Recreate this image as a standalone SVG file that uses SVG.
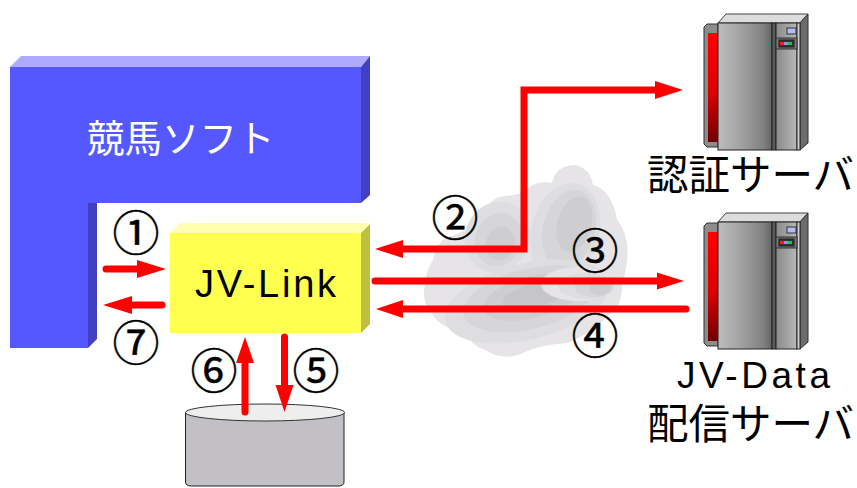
<svg xmlns="http://www.w3.org/2000/svg" width="857" height="488" viewBox="0 0 857 488">
<style>
text{font-family:"Noto Sans CJK JP","Liberation Sans",sans-serif}
.lbl{font-size:41.500px;fill:#000}
.lat{font-family:"Liberation Sans",sans-serif;fill:#000}
.num{font-size:47px;fill:#000;stroke:#000;stroke-width:.5;text-anchor:middle}
.wire{fill:none;stroke:#f00;stroke-width:7;stroke-linejoin:miter;stroke-linecap:round}
.head{fill:#f00}
.c0{fill:#e6e4e6}.c1{fill:#dedddf}.c2{fill:#d6d5d7}.c3{fill:#cecdcf}.c4{fill:#c6c5c7}
</style>
<defs>
<linearGradient id="door" x1="0" y1="0" x2="0" y2="1"><stop offset="0" stop-color="#ff0000"/><stop offset="0.55" stop-color="#dc0000"/><stop offset="1" stop-color="#700000"/></linearGradient>
<linearGradient id="body" x1="0" y1="0" x2="1" y2="0"><stop offset="0" stop-color="#bcbcbc"/><stop offset="0.4" stop-color="#a4a4a4"/><stop offset="0.85" stop-color="#808080"/><stop offset="1" stop-color="#646464"/></linearGradient>
<linearGradient id="panel" x1="0" y1="0" x2="1" y2="0"><stop offset="0" stop-color="#8a8a8a"/><stop offset="1" stop-color="#b8b8b8"/></linearGradient>
<g id="srv">
<path d="M704 27l3-3h11v123h-11l-3-3z" fill="#8c8c8c" stroke="#333" stroke-width="1"/>
<rect x="708" y="33" width="10" height="109" fill="url(#door)"/>
<path d="M718 23l8-9h82l-8 9z" fill="#dcdcdc" stroke="#444" stroke-width="1"/>
<path d="M800 23l8-9V143l-8 7z" fill="#6a6e6b" stroke="#333" stroke-width="1"/>
<rect x="718" y="23" width="54" height="127" fill="url(#body)" stroke="#222" stroke-width="1"/>
<rect x="772" y="23" width="4" height="127" fill="#5a5a5a" stroke="#222" stroke-width="1"/>
<rect x="776" y="23" width="21" height="127" fill="url(#panel)" stroke="#222" stroke-width="1"/>
<rect x="797" y="23" width="3" height="127" fill="#d0d0d0" stroke="#222" stroke-width="1"/>
<rect x="776" y="38" width="21" height="11" fill="#777" stroke="#333" stroke-width="1"/>
<rect x="787" y="28" width="9" height="6" fill="#b4bcf4" stroke="#333" stroke-width="1"/>
<rect x="779" y="40" width="15" height="7" fill="#333" stroke="#222" stroke-width="1"/>
<rect x="780" y="42" width="4" height="3" fill="#f02020"/><rect x="784" y="42" width="4" height="3" fill="#9090f0"/><rect x="788" y="42" width="4" height="3" fill="#20c040"/>
</g>
</defs>
<rect width="857" height="488" fill="#fff"/>
<g id="cloud">
<path class="c0" d="M433 260Q436 245 445 238Q470 232 483 215Q490 197 505 196Q520 195 527 190Q535 180 552 183Q556 165 575 165Q590 168 593 185Q612 190 617 220Q630 235 627 262Q625 275 622 285Q622 305 612 312Q590 335 567 343Q540 345 525 352Q505 362 485 350Q470 345 467 333Q445 330 435 318Q420 300 425 285Q426 270 433 260Z"/>
<g transform="rotate(15 565 232)"><ellipse class="c1" cx="565" cy="232" rx="34" ry="50"/><ellipse class="c2" cx="568" cy="228" rx="26" ry="40"/><ellipse class="c3" cx="572" cy="222" rx="17" ry="28"/></g>
<g transform="rotate(20 500 235)"><ellipse class="c1" cx="498" cy="238" rx="32" ry="36"/><ellipse class="c2" cx="500" cy="240" rx="23" ry="27"/><ellipse class="c3" cx="503" cy="243" rx="14" ry="17"/></g>
<g transform="rotate(-14 533 300)"><ellipse class="c1" cx="527" cy="300" rx="84" ry="38"/><ellipse class="c2" cx="530" cy="298" rx="68" ry="30"/><ellipse class="c3" cx="533" cy="297" rx="50" ry="21"/><ellipse class="c4" cx="535" cy="296" rx="32" ry="12"/></g>
<ellipse class="c0" cx="578" cy="284" rx="37" ry="17"/>
<ellipse class="c1" cx="586" cy="286" rx="28" ry="13"/>
<ellipse class="c2" cx="594" cy="287" rx="19" ry="10"/>
<ellipse class="c3" cx="600" cy="288" rx="11" ry="7"/>
</g>
<g id="software">
<path d="M10 67l11-11h349l-9 11z" fill="#aeaaff"/>
<path d="M361 67l9-11v139l-9 8z" fill="#4040c0"/>
<path d="M88 203h9v136l-9 9z" fill="#4040c0"/>
<path d="M10 67h351v136H88v145H10z" fill="#5558ff"/>
<text x="87" y="152" font-size="37.500" fill="#fff">競馬ソフト</text>
</g>
<g id="jvlink">
<path d="M170 233l10-10h190l-9 10z" fill="#ffffb0"/>
<path d="M361 233l9-9v100l-9 9z" fill="#c0c040"/>
<rect x="170" y="233" width="191" height="100" fill="#ffff50"/>
<text class="lat" x="195" y="297" font-size="38" textLength="141" lengthAdjust="spacing">JV-Link</text>
</g>
<g id="database">
<path d="M185.500 412.500V482q0 4 6 4H338q6 0 6-4V412.500" fill="#c2c0c4" stroke="#222" stroke-width="1"/>
<ellipse cx="265" cy="412.500" rx="79.500" ry="8.500" fill="#eeeeee" stroke="#333" stroke-width="1"/>
</g>
<g id="server-auth"><use href="#srv"/><text class="lbl" x="647" y="190">認証サーバ</text></g>
<g id="server-data"><use href="#srv" y="199"/><text class="lat" x="677" y="388" font-size="37" textLength="153" lengthAdjust="spacing">JV-Data</text><text class="lbl" x="647" y="439">配信サーバ</text></g>
<g id="connectors">
<path class="wire" d="M660 90H524V249H398" stroke-linecap="butt"/>
<path class="head" d="M655 81l28 9l-28 9zM403 240l-28 9l28 9z"/>
<path class="wire" d="M375 281H660"/><path class="head" d="M657 272.500l27 8.500l-27 8.500z"/>
<path class="wire" d="M686 309H398"/><path class="head" d="M403 300l-27 9l27 9z"/>
<path class="wire" d="M106 269H140"/><path class="head" d="M137 260l29 9l-29 9z"/>
<path class="wire" d="M162 305H130"/><path class="head" d="M132 296l-29 9l29 9z"/>
<path class="wire" d="M245 412V360"/><path class="head" d="M236 363l9-26l9 26z"/>
<path class="wire" d="M284.500 337V388"/><path class="head" d="M275.500 385l9 27l9-27z"/>
</g>
<g id="numbers">
<text class="num" x="136" y="250">①</text>
<text class="num" x="455" y="235">②</text>
<text class="num" x="595" y="268">③</text>
<text class="num" x="595" y="353">④</text>
<text class="num" x="316" y="388">⑤</text>
<text class="num" x="214" y="388">⑥</text>
<text class="num" x="136" y="360">⑦</text>
</g>
</svg>
